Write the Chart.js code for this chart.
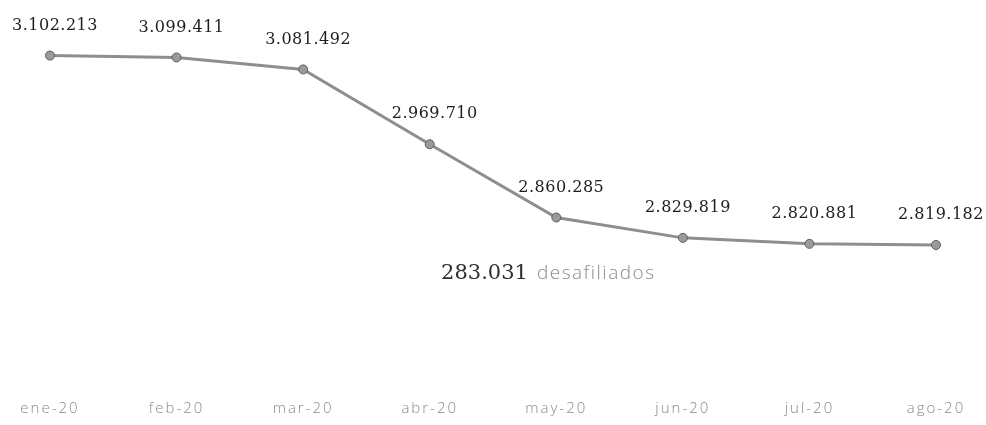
<!DOCTYPE html>
<html>
<head>
<meta charset="utf-8">
<script src="https://cdn.jsdelivr.net/npm/chart.js@4.4.1/dist/chart.umd.min.js"></script>
<style>
    html, body { margin: 0; padding: 0; background: #fff; }
    #wrap { width: 986px; height: 425px; }
</style>
</head>
<body>
<div id="wrap"><canvas id="afiliados"></canvas></div>
<script>
// months shown on the x axis
const months = ['ene-20', 'feb-20', 'mar-20', 'abr-20', 'may-20', 'jun-20', 'jul-20', 'ago-20'];
// affiliates per month
const afiliados = [3102213, 3099411, 3081492, 2969710, 2860285, 2829819, 2820881, 2819182];
// annotation under the curve
const notaNumero = '283.031';
const notaTexto = 'desafiliados';
const notaMes = 'may-20';
const notaValor = 2776000;

const fmt = (v) => v.toLocaleString('de-DE');

// point labels above each marker
const pointLabels = {
    id: 'pointLabels',
    afterDatasetsDraw(chart) {
        const ctx = chart.ctx;
        const meta = chart.getDatasetMeta(0);
        ctx.save();
        ctx.letterSpacing = '0.5px';
        ctx.font = '16px "DejaVu Serif"';
        ctx.fillStyle = '#1e1e1e';
        ctx.textAlign = 'center';
        ctx.textBaseline = 'middle';
        meta.data.forEach((pt, i) => {
            ctx.fillText(fmt(afiliados[i]), pt.x + 5, pt.y - 30);
        });

        // annotation text
        const x = chart.scales.x.getPixelForValue(months.indexOf(notaMes));
        const y = chart.scales.y.getPixelForValue(notaValor);
        const numFont = '21px "DejaVu Serif"';
        const txtFont = '300 19px "Open Sans"';
        ctx.letterSpacing = '0px';
        ctx.font = numFont;
        const w1 = ctx.measureText(notaNumero).width + 9;
        ctx.font = txtFont;
        ctx.letterSpacing = '1.5px';
        const w2 = ctx.measureText(notaTexto).width;
        const start = x - 8 - (w1 + w2) / 2;
        ctx.textAlign = 'left';
        ctx.letterSpacing = '0px';
        ctx.font = numFont;
        ctx.fillStyle = '#2e2e2e';
        ctx.fillText(notaNumero, start, y);
        ctx.font = txtFont;
        ctx.letterSpacing = '1.5px';
        ctx.fillStyle = '#8a8a8a';
        ctx.fillText(notaTexto, start + w1, y);
        ctx.restore();
    }
};

// wider tick letters like the scan
const spacing = {
    id: 'spacing',
    beforeDraw(chart) { chart.ctx.letterSpacing = '2px'; },
    afterDraw(chart) { chart.ctx.letterSpacing = '0px'; }
};

new Chart(document.getElementById('afiliados'), {
    type: 'line',
    data: {
        labels: months,
        datasets: [{
            data: afiliados,
            borderColor: '#8e8e8e',
            borderWidth: 3,
            pointRadius: 4.5,
            pointBackgroundColor: '#9a9a9a',
            pointBorderColor: '#5e5e5e',
            pointBorderWidth: 1,
            tension: 0
        }]
    },
    options: {
        responsive: true,
        maintainAspectRatio: false,
        animation: false,
        layout: { padding: { left: 50, right: 50, top: 0, bottom: 0 } },
        plugins: { legend: { display: false }, tooltip: { enabled: false } },
        scales: {
            x: {
                offset: false,
                grid: { display: false },
                border: { display: false },
                ticks: {
                    color: '#8a8a8a',
                    padding: 7,
                    maxRotation: 0,
                    font: { family: 'Open Sans', size: 15, weight: 300 }
                }
            },
            y: {
                display: false,
                min: 2610000,
                max: 3177000
            }
        }
    },
    plugins: [pointLabels, spacing]
});
</script>
</body>
</html>
